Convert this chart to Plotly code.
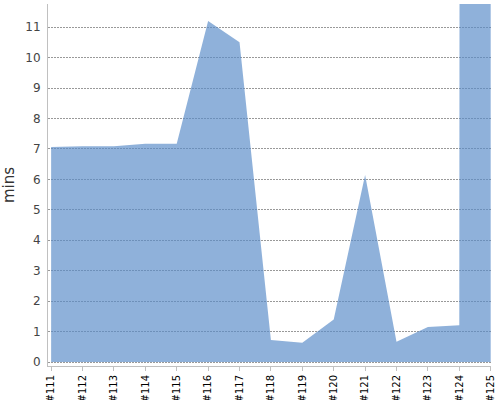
import plotly.graph_objects as go

categories = ["#111", "#112", "#113", "#114", "#115", "#116", "#117", "#118",
              "#119", "#120", "#121", "#122", "#123", "#124", "#125"]
mins = [7.06, 7.09, 7.09, 7.17, 7.17, 11.2, 10.5, 0.72, 0.63, 1.40, 6.14, 0.67, 1.15, 1.21, 1500]
y_ticks = list(range(0, 12))

fig = go.Figure()
fig.add_trace(go.Scatter(
    x=categories, y=mins, mode="lines", fill="tozeroy",
    line=dict(width=0, color="rgba(90,140,200,0.7)"),
    fillcolor="rgba(90,140,200,0.68)",
    hoverinfo="x+y",
))

fig.update_layout(
    width=500, height=400,
    margin=dict(l=48, r=9, t=4, b=34),
    paper_bgcolor="white", plot_bgcolor="white",
    font=dict(family="DejaVu Sans", color="#444"),
    showlegend=False,
    xaxis=dict(
        type="category", range=[-0.1, 14.01],
        showline=True, linecolor="#c0c0c0", linewidth=1,
        ticks="outside", ticklen=4, tickcolor="#c0c0c0",
        tickangle=-90, tickfont=dict(size=10, color="#000"),
        showgrid=False, zeroline=False, automargin=False,
    ),
    yaxis=dict(
        range=[-0.13, 11.76],
        tickvals=y_ticks,
        showline=True, linecolor="#c0c0c0", linewidth=1,
        ticks="", tickfont=dict(size=12, color="#444"),
        showgrid=True, gridcolor="#999", griddash="2px,1px", gridwidth=1,
        zeroline=False, automargin=False,
        title=dict(text="mins", font=dict(size=15, color="#333"), standoff=11),
        ticklabelstandoff=4,
    ),
)

fig.write_html("out.html", config={"displayModeBar": False},
               post_script="document.body.style.margin='0';")
